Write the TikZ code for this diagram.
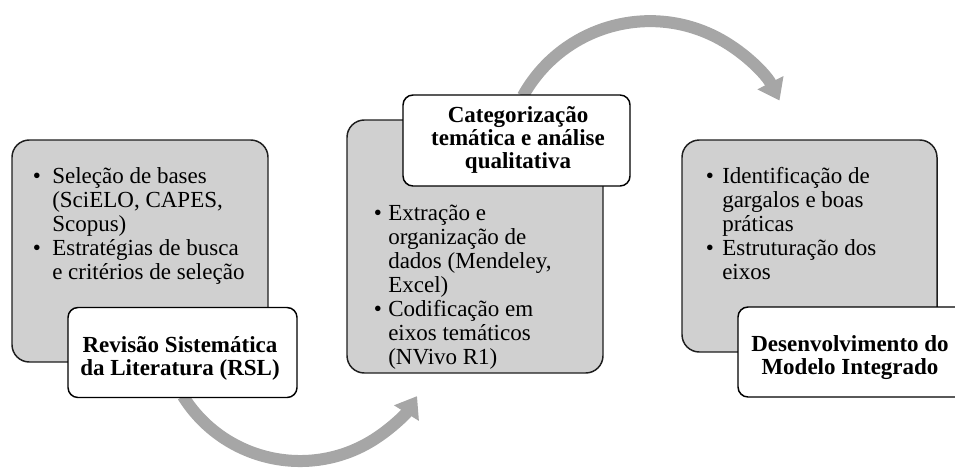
\documentclass[tikz,border=0pt]{standalone}
\usepackage{fontspec}
\setmainfont{Liberation Serif}
\usetikzlibrary{arrows.meta}
\definecolor{boxgray}{RGB}{208,208,208}
\definecolor{arrgray}{RGB}{166,166,166}
\definecolor{edgec}{RGB}{30,30,30}
\begin{document}
\begin{tikzpicture}[x=0.75pt,y=-0.75pt,
  font=\fontsize{17.25pt}{18pt}\selectfont,
  graybox/.style={draw=edgec, line width=1.1pt, fill=boxgray, rounded corners=13pt, inner sep=0pt},
  whitebox/.style={draw=black, line width=1.1pt, fill=white, rounded corners=7.5pt, inner sep=0pt},
  txt/.style={anchor=base west, inner sep=0pt},
  bul/.style={anchor=base, inner sep=0pt},
  boldtxt/.style={anchor=base, inner sep=0pt, font=\fontsize{17.25pt}{18pt}\selectfont\bfseries},
  flow/.style={draw=arrgray, line width=9pt, -{Triangle[length=15pt,width=21pt]}}]
\useasboundingbox (0,0) rectangle (955,467);
\clip (0,0) rectangle (955,467);
% arrows
\coordinate (c1) at (300,323);
\coordinate (c2) at (650,166.5);
\draw[flow] (c1) ++(212:103.5pt) arc[start angle=212, end angle=328, radius=103.5pt];
\draw[flow] (c2) ++(151:109pt) arc[start angle=151, end angle=27, radius=109pt];
% gray boxes
\node[graybox, minimum width=192pt, minimum height=166.5pt] (g1) at (140,251) {};
\node[graybox, minimum width=192pt, minimum height=189.75pt] (g2) at (475,246.5) {};
\node[graybox, minimum width=191.25pt, minimum height=159pt] (g3) at (809.5,246) {};
% white boxes
\node[whitebox, minimum width=171.75pt, minimum height=67.5pt] (w1) at (182.5,352.5) {};
\node[whitebox, minimum width=170.25pt, minimum height=68.25pt] (w2) at (516.5,140.5) {};
\node[whitebox, minimum width=196.5pt, minimum height=67.5pt] (w3) at (869,352) {};
% box 1 text
\node[bul] (b1a) at (37,183) {•};
\node[bul] (b1b) at (37,255) {•};
\foreach \t [count=\i] in {{Seleção de bases},{(SciELO, CAPES,},{Scopus)},{Estratégias de busca},{e critérios de seleção}}
  \node[txt] (t1-\i) at (52,159+24*\i) {\t};
% box 2 text
\node[bul] (b2a) at (378,220) {•};
\node[bul] (b2b) at (378,316) {•};
\foreach \t [count=\i] in {{Extração e},{organização de},{dados (Mendeley,},{Excel)},{Codificação em},{eixos temáticos},{(NVivo R1)}}
  \node[txt] (t2-\i) at (388,196+24*\i) {\t};
% box 3 text
\node[bul] (b3a) at (710,183) {•};
\node[bul] (b3b) at (710,255) {•};
\foreach \t [count=\i] in {{Identificação de},{gargalos e boas},{práticas},{Estruturação dos},{eixos}}
  \node[txt] (t3-\i) at (722,159+24*\i) {\t};
% bold titles
\node[boldtxt] (h1a) at (180,352) {Revisão Sistemática};
\node[boldtxt] (h1b) at (180,375) {da Literatura (RSL)};
\node[boldtxt] (h2a) at (518,122) {Categorização};
\node[boldtxt] (h2b) at (518,145) {temática e análise};
\node[boldtxt] (h2c) at (518,168) {qualitativa};
\node[boldtxt] (h3a) at (850,351) {Desenvolvimento do};
\node[boldtxt] (h3b) at (850,374) {Modelo Integrado};
\end{tikzpicture}
\end{document}
